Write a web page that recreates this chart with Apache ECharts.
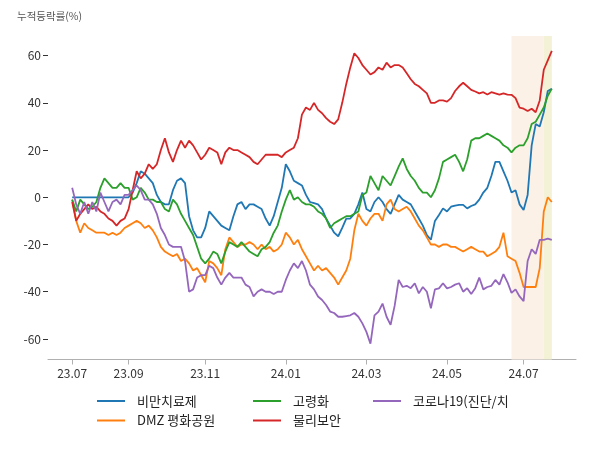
<!DOCTYPE html>
<html>
<head>
<meta charset="utf-8">
<script src="https://cdn.jsdelivr.net/npm/echarts@6/dist/echarts.min.js"></script>
<style>
  html, body { margin: 0; padding: 0; background: #fff; }
  #chart { width: 600px; height: 450px; }
</style>
</head>
<body>
<div id="chart"></div>
<script>
// 월 눈금 (데이터 인덱스 기준)
const tickLabels = ["23.07", "23.09", "23.11", "24.01", "24.03", "24.05", "24.07"];
const tickIndex = [0, 14, 33, 53, 73, 93, 112];

const seriesNames = ["비만치료제", "DMZ 평화공원", "고령화", "물리보안", "코로나19(진단/치"];

// 누적등락률(%)
const obesity = [
  0, 0, 0, 0, 0, 0, 0, 0, 0, 0,
  0, 0, 0, 0, 0, 2, 6, 11, 10, 8,
  6, 1, -2, -3, -3, 3, 7, 8, 6, -8,
  -14, -17, -17, -13, -6, -8, -10, -12, -13, -14,
  -8, -3, -2, -5, -3, -3, -4, -5, -9, -12,
  -8, -2, 4, 14, 11, 7, 6, 5, 1, -2,
  -2.5, -3, -5, -9, -12, -15, -16.5, -13, -9, -9,
  -7, -3, 2, -5, -6, -2, 0, -2, -5, -7,
  -3, 1, -1, -2, -3, -6, -9, -12, -16, -18,
  -10, -7.5, -4.7, -6, -4, -3.5, -3.2, -3.2, -4.7, -3.7,
  -3, -1, 2, 4, 9, 15, 15, 11, 7, 2,
  3, -3, -5.4, 1, 22, 31, 30, 36, 45, 46
];
const dmz = [
  -1, -10, -15, -11, -13, -14, -15, -15, -15, -16,
  -15, -16, -15, -13, -12, -11, -10, -11, -13, -12,
  -14, -17, -21, -23, -24, -25, -24, -27, -26, -28,
  -31, -30, -33, -36, -27, -28, -30, -33, -22, -17,
  -19, -21, -20, -20, -19, -20, -22, -20, -22, -21,
  -23, -22, -20, -15, -17, -20, -18, -22, -25, -28,
  -31, -29, -31, -30, -32, -34, -37, -34, -31, -26,
  -14, -7, -10, -12, -9, -7, -7, -10, -3, -1,
  -5, -6, -5, -4, -6, -9, -12, -14, -17, -20,
  -20, -21, -20, -20, -21, -21, -22, -23, -22, -21,
  -22, -23, -23, -25, -24, -23, -21, -15, -25, -26,
  -27, -32, -38, -38, -38, -38, -30, -6, 0, -2
];
const aging = [
  -1, -6, -1, -3, -5, -4, -2, 4, 8, 6,
  4, 4, 6, 4, 4, -1, 0, 4, 2, -1,
  -1, -2, -2, -5, -6, -1, -3, -7, -10, -13,
  -16, -21, -26, -28, -26, -23, -24, -28, -23, -19,
  -20, -21, -19, -21, -23, -24, -25, -22, -21, -19,
  -15, -12, -6, -1, 3, -1, 0, -2, -3, -3,
  -4, -6, -7, -9, -13, -11, -10, -9, -8, -8,
  -7, -6, 1, 2, 9, 6, 3, 9, 7, 5,
  9, 13, 16.5, 12, 9, 7, 4, 2, 2, 0,
  3, 8, 15, 16, 17, 18, 15, 11, 16, 24,
  25, 25, 26, 27, 26, 25, 24, 22, 21, 19,
  21, 22, 22, 25, 31, 32, 35, 38, 43, 46
];
const security = [
  -2, -10, -7, -5, -3, -5, -4, -6, -7, -9,
  -10, -12, -10, -9, -5, 3, 11, 8, 10, 14,
  12, 14, 20, 25, 19, 15, 20, 24, 21, 24,
  22, 19, 16, 18, 21, 20, 19, 14, 19, 21,
  20, 20, 19, 18, 17, 15, 14, 16, 18, 18,
  18, 18, 17, 19, 20, 21, 25, 35, 38, 37,
  40, 37, 35.6, 33.5, 32, 31, 33, 40, 48, 55,
  61, 59, 56, 54, 52, 53, 55, 54, 57, 55,
  56, 56, 55, 52.5, 50, 48, 47, 45.5, 44, 40,
  40, 41, 41, 40.5, 42, 45, 47, 48.5, 47, 45.5,
  44.8, 44, 44.5, 43.5, 44.5, 44, 43.5, 44, 43.5, 43.4,
  42, 38, 37.5, 36.5, 37.5, 36, 41, 54, 58, 62
];
const covid = [
  4, -3, -7, -2, -7, -2, -6, 2, -2, -6,
  -2, -1, -3, 1, 1, 3, 5, 3, -1, -1,
  -3, -7, -13, -16, -20, -21, -21, -21, -27, -40,
  -39, -34, -33, -33, -29, -30, -34, -37, -34, -32,
  -34, -34, -34, -37, -38, -42, -40, -39, -40, -40,
  -41, -40, -40, -35, -31, -28, -30, -27, -31, -37,
  -39, -42, -43.5, -45.6, -48.4, -49, -50.6, -50.6, -50.3, -50,
  -49, -50.6, -53.4, -57, -62, -50, -48.4, -45, -50.6, -54,
  -46, -35, -38, -37.5, -38.5, -36.4, -40.7, -38, -40, -47,
  -39, -38.6, -36.4, -38.6, -38, -37, -36.4, -40, -38.5, -41,
  -38.5, -34, -39, -38, -37.5, -35, -37, -32.5, -36, -40.5,
  -39, -42, -44, -27, -22, -24, -18, -18, -17.5, -18
];

// 음영 구간 (데이터 인덱스)
const shadeSpans = [[109, 117], [117, 119]];

const colors = ["#1f77b4", "#ff7f0e", "#2ca02c", "#d62728", "#9467bd"];
const shadeColors = ["#fbf1e7", "#f3f1d6"];
const FONT = "Noto Sans CJK KR";

// 좌우 여백용 빈 카테고리
const PAD = 6;
const n = obesity.length;
const categories = [];
for (let i = -PAD; i < n + PAD; i++) categories.push(String(i));
const labelOf = {};
tickIndex.forEach((t, k) => { labelOf[String(t)] = tickLabels[k]; });
function pad(arr) {
  return Array(PAD).fill("-").concat(arr, Array(PAD).fill("-"));
}
const showTick = (idx, val) => val in labelOf;

let myChart = echarts.init(document.getElementById("chart"));

const allData = [obesity, dmz, aging, security, covid];
const lines = allData.map((d, k) => ({
  name: seriesNames[k],
  type: "line",
  data: pad(d),
  showSymbol: false,
  color: colors[k],
  lineStyle: { width: 1.8, color: colors[k] },
  z: 3,
  animation: false
}));

const legendBase = {
  orient: "vertical",
  top: 393,
  padding: 0,
  itemGap: 3.5,
  icon: "rect",
  itemWidth: 28,
  itemHeight: 2,
  textStyle: {
    fontFamily: FONT,
    fontSize: 13,
    color: "#222",
    lineHeight: 16,
    padding: [0, 0, 0, 7]
  }
};

let option = {
  animation: false,
  textStyle: { fontFamily: FONT },
  title: {
    text: "누적등락률(%)",
    left: 12,
    top: 6,
    textStyle: { fontFamily: FONT, fontSize: 10.5, fontWeight: "normal", color: "#555" }
  },
  legend: [
    Object.assign({}, legendBase, { left: 97, data: [seriesNames[0], seriesNames[1]] }),
    Object.assign({}, legendBase, { left: 253, data: [seriesNames[2], seriesNames[3]] }),
    Object.assign({}, legendBase, { left: 373, data: [seriesNames[4]] })
  ],
  grid: { left: 48, right: 24, top: 36, bottom: 90.5, containLabel: false },
  xAxis: {
    type: "category",
    boundaryGap: false,
    data: categories,
    axisLine: { onZero: false, lineStyle: { color: "#b0b0b0", width: 1 } },
    axisTick: { interval: showTick, length: 5, lineStyle: { color: "#b0b0b0" } },
    axisLabel: {
      interval: showTick,
      formatter: v => labelOf[v] || "",
      color: "#333",
      fontSize: 12,
      margin: 8
    },
    splitLine: { show: false }
  },
  yAxis: {
    type: "value",
    min: -68.7,
    max: 68.3,
    axisLine: { show: false },
    axisTick: {
      show: true,
      length: 5,
      lineStyle: { color: "#333" },
      customValues: [-60, -40, -20, 0, 20, 40, 60]
    },
    axisLabel: {
      color: "#333",
      fontSize: 12,
      margin: 7,
      customValues: [-60, -40, -20, 0, 20, 40, 60]
    },
    splitLine: { show: false }
  },
  series: [
    {
      name: "shade",
      type: "line",
      data: pad(obesity.map(() => "-")),
      showSymbol: false,
      silent: true,
      z: 1,
      markArea: {
        silent: true,
        data: shadeSpans.map((s, k) => [
          { xAxis: String(s[0]), itemStyle: { color: shadeColors[k] } },
          { xAxis: String(s[1]) }
        ])
      }
    }
  ].concat(lines)
};

myChart.setOption(option);

window.addEventListener("resize", function() {
  myChart.resize();
});
</script>
</body>
</html>
